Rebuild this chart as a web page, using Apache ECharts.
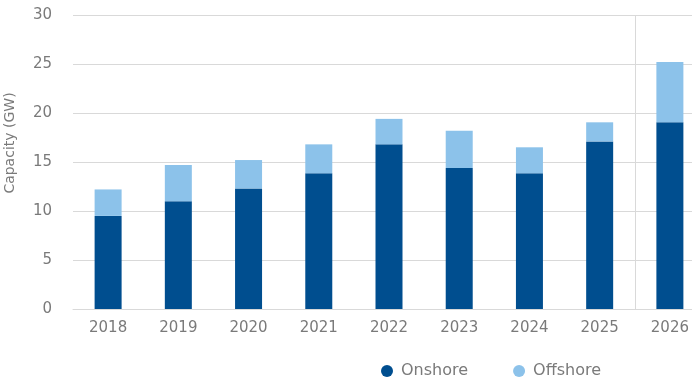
<!DOCTYPE html>
<html><head><meta charset="utf-8">
<script src="https://cdn.jsdelivr.net/npm/echarts@6/dist/echarts.min.js"></script>
<style>html,body{margin:0;padding:0;background:#fff}#c{width:692px;height:391px}</style>
</head><body><div id="c"></div>
<script>
const categories = ['2018','2019','2020','2021','2022','2023','2024','2025','2026'];
const onshore = [9.5, 11.0, 12.3, 13.85, 16.8, 14.4, 13.85, 17.1, 19.05];
const offshore = [2.7, 3.7, 2.9, 2.95, 2.6, 3.8, 2.65, 1.95, 6.15];
const yTicks = { min: 0, max: 30, interval: 5 };
const dividerAt = 8; // boundary between 2025 and 2026
const textColor = '#7a7a7a';
const font = 'DejaVu Sans';
const chart = echarts.init(document.getElementById('c'));
chart.setOption({
  animation: false,
  textStyle: { fontFamily: font },
  grid: { left: 73, right: -13, top: 15, bottom: 82, containLabel: false, outerBoundsMode: 'none' },
  legend: {
    left: 376, top: 358, icon: 'circle', itemWidth: 12, itemHeight: 12, itemGap: 45,
    textStyle: { color: textColor, fontSize: 16, fontFamily: font, padding: [0, 0, 0, 3] },
    data: ['Onshore', 'Offshore']
  },
  xAxis: [{
    type: 'category', data: categories,
    axisLine: { lineStyle: { color: '#d9d9d9' } },
    axisTick: { show: false },
    axisLabel: { color: textColor, fontSize: 15, margin: 12, fontFamily: font },
    splitLine: { show: false }
  }, {
    type: 'value', min: 0, max: categories.length, show: false
  }],
  yAxis: {
    type: 'value', min: yTicks.min, max: yTicks.max, interval: yTicks.interval,
    name: 'Capacity (GW)', nameLocation: 'middle', nameGap: 56,
    nameTextStyle: { color: textColor, fontSize: 14, fontFamily: font, padding: [0, 0, 0, 38] },
    axisLine: { show: false }, axisTick: { show: false },
    axisLabel: { color: textColor, fontSize: 15, margin: 21, fontFamily: font },
    splitLine: { lineStyle: { color: '#d9d9d9' } }
  },
  series: [
    { name: 'Onshore', type: 'bar', stack: 'cap', data: onshore, barWidth: 27, itemStyle: { color: '#004e8f' } },
    { name: 'Offshore', type: 'bar', stack: 'cap', data: offshore, barWidth: 27, itemStyle: { color: '#8cc2ea' } },
    { name: 'divider', type: 'line', xAxisIndex: 1, data: [], silent: true,
      markLine: { symbol: 'none', silent: true, label: { show: false },
        lineStyle: { color: '#d9d9d9', type: 'solid', width: 1 },
        data: [{ xAxis: dividerAt }] } }
  ]
});
</script></body></html>
